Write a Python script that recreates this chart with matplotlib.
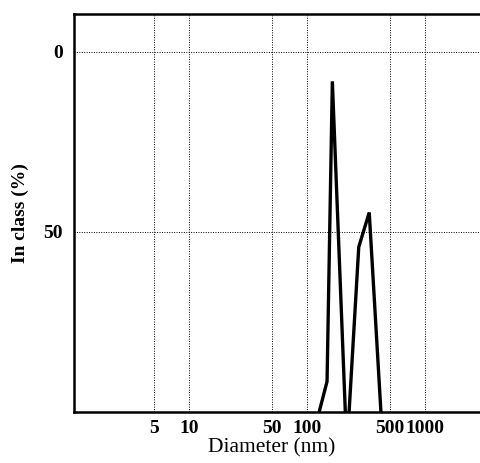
import matplotlib
matplotlib.use("Agg")
import matplotlib.pyplot as plt
from matplotlib.ticker import FixedLocator, NullLocator

# size distribution (diameter in nm, "in class" value)
diameter = [126, 147, 163, 210, 226, 273, 335, 421]
in_class = [100, 91.5, 8.2, 100, 100, 54.2, 44.6, 100]
# the trace is broken between the two peaks
segments = [(0, 4), (4, 8)]

x_ticks = [5, 10, 50, 100, 500, 1000]
x_labels = ["5", "10", "50", "100", "500", "1000"]
y_ticks = [0, 50]

plt.rcParams["font.family"] = ["Liberation Serif", "DejaVu Serif"]

fig = plt.figure(figsize=(4.8, 4.63), dpi=100)
ax = fig.add_axes([74 / 480, 1 - 412 / 463, 1.0 - 74 / 480 + 0.01, (412 - 14) / 463])

for a, b in segments:
    ax.plot(diameter[a:b], in_class[a:b], color="black", lw=2.4,
            solid_joinstyle="miter", clip_on=True)

ax.set_xscale("log")
ax.set_xlim(1.05, 3200)
ax.set_ylim(100, -10.5)

ax.xaxis.set_major_locator(FixedLocator(x_ticks))
ax.xaxis.set_minor_locator(NullLocator())
ax.set_xticklabels(x_labels, fontsize=14, fontweight="bold")
ax.set_yticks(y_ticks)
ax.set_yticklabels([str(v) for v in y_ticks], fontsize=14, fontweight="bold")
ax.tick_params(axis="x", length=0, pad=6)
ax.tick_params(axis="y", length=0, pad=8)

ax.grid(True, color="black", lw=0.7, ls=(0, (1, 1.5)))
ax.set_axisbelow(True)

for side in ("left", "bottom", "top"):
    ax.spines[side].set_linewidth(1.8)
ax.spines["right"].set_visible(False)

ax.set_xlabel("Diameter (nm)", fontsize=15.5, labelpad=1)
ax.xaxis.set_label_coords((272 - 74) / (480 * (1.0 - 74 / 480 + 0.01)), -0.065)
ax.set_ylabel("In class (%)", fontsize=14, fontweight="bold", labelpad=10)

fig.savefig("out.png", dpi=100, facecolor="white")
